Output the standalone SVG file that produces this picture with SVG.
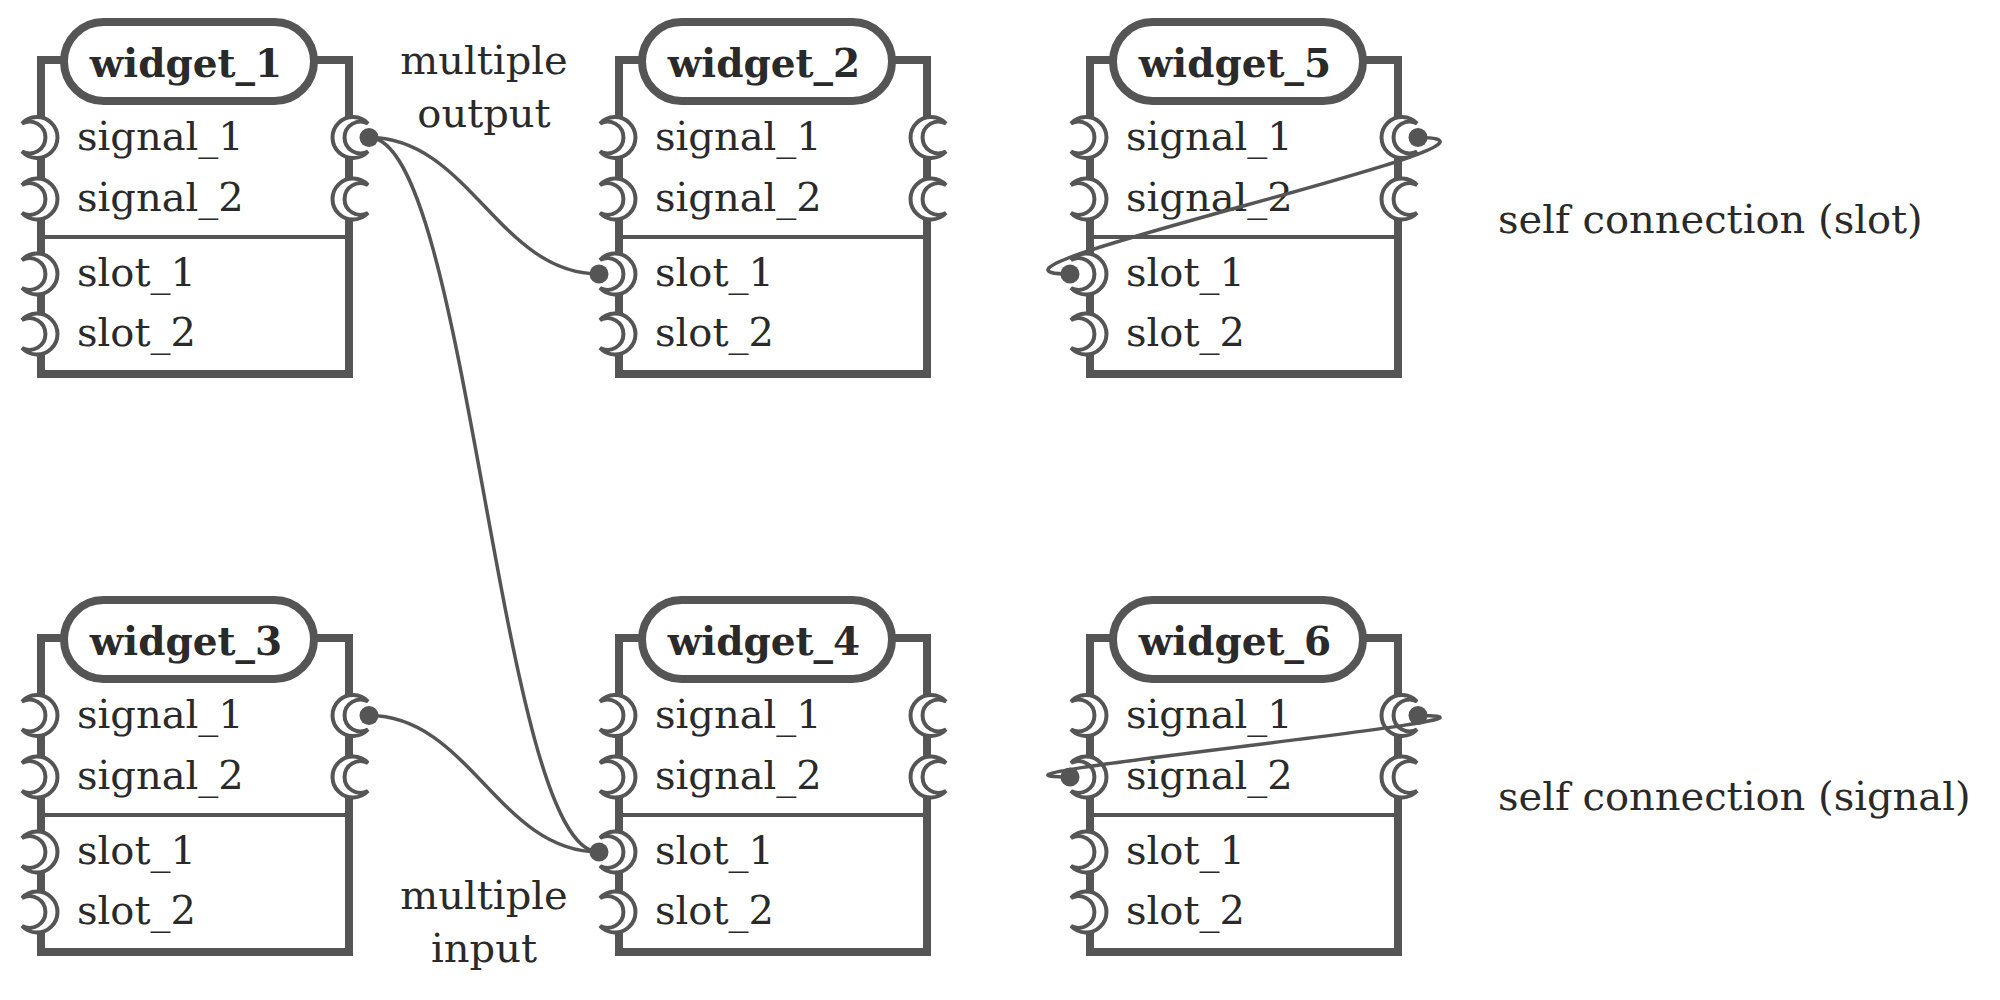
<svg xmlns="http://www.w3.org/2000/svg" xmlns:xlink="http://www.w3.org/1999/xlink" width="2000" height="1000" viewBox="0 0 2000 1000">
<style>
.box{fill:#fff;stroke:#555;stroke-width:8}
.div{stroke:#555;stroke-width:4}
.pill{fill:#fff;stroke:#555;stroke-width:8}
.title{font-family:"DejaVu Serif",serif;font-weight:bold;font-size:39px;fill:#2a2a2a;text-anchor:middle}
.lbl{font-family:"DejaVu Serif",serif;font-size:40px;fill:#2a2a2a}
.note{font-family:"DejaVu Serif",serif;font-size:40px;fill:#2a2a2a}
.mid{text-anchor:middle}
.wire{fill:none;stroke:#555;stroke-width:3.5}
.port{fill:#fff;stroke:#555;stroke-width:4}
</style>
<defs>
<g id="pL">
<circle cx="-4" cy="0" r="20.5" fill="#fff"/>
<path class="port" d="M-19,-14 A20.5,20.5 0 1 1 -19,14 A15.9,15.9 0 1 0 -19,-14 Z"/>
</g>
<g id="pR">
<circle cx="4" cy="0" r="20.5" fill="#fff"/>
<path class="port" d="M19,-14 A20.5,20.5 0 1 0 19,14 A15.9,15.9 0 1 1 19,-14 Z"/>
</g>
<g id="dot">
<circle r="12.5" fill="#fff"/>
<circle r="9.5" fill="#555"/>
</g>
</defs>

<g id="widget_1" transform="translate(41,60)">
<rect class="box" x="0" y="0" width="308" height="314"/>
<line class="div" x1="0" y1="177" x2="308" y2="177"/>
<rect class="pill" x="23" y="-38" width="250" height="79" rx="39.5"/>
<text class="title" x="145" y="17">widget_1</text>
<use xlink:href="#pL" x="0" y="77.5"/><use xlink:href="#pL" x="0" y="139"/><use xlink:href="#pL" x="0" y="214"/><use xlink:href="#pL" x="0" y="274"/>
<use xlink:href="#pR" x="308" y="77.5"/><use xlink:href="#pR" x="308" y="139"/>
<text class="lbl" x="36" y="89.5">signal_1</text><text class="lbl" x="36" y="151">signal_2</text><text class="lbl" x="36" y="226">slot_1</text><text class="lbl" x="36" y="286">slot_2</text>
</g>

<g id="widget_2" transform="translate(619,60)">
<rect class="box" x="0" y="0" width="308" height="314"/>
<line class="div" x1="0" y1="177" x2="308" y2="177"/>
<rect class="pill" x="23" y="-38" width="250" height="79" rx="39.5"/>
<text class="title" x="145" y="17">widget_2</text>
<use xlink:href="#pL" x="0" y="77.5"/><use xlink:href="#pL" x="0" y="139"/><use xlink:href="#pL" x="0" y="214"/><use xlink:href="#pL" x="0" y="274"/>
<use xlink:href="#pR" x="308" y="77.5"/><use xlink:href="#pR" x="308" y="139"/>
<text class="lbl" x="36" y="89.5">signal_1</text><text class="lbl" x="36" y="151">signal_2</text><text class="lbl" x="36" y="226">slot_1</text><text class="lbl" x="36" y="286">slot_2</text>
</g>

<g id="widget_5" transform="translate(1090,60)">
<rect class="box" x="0" y="0" width="308" height="314"/>
<line class="div" x1="0" y1="177" x2="308" y2="177"/>
<rect class="pill" x="23" y="-38" width="250" height="79" rx="39.5"/>
<text class="title" x="145" y="17">widget_5</text>
<use xlink:href="#pL" x="0" y="77.5"/><use xlink:href="#pL" x="0" y="139"/><use xlink:href="#pL" x="0" y="214"/><use xlink:href="#pL" x="0" y="274"/>
<use xlink:href="#pR" x="308" y="77.5"/><use xlink:href="#pR" x="308" y="139"/>
<text class="lbl" x="36" y="89.5">signal_1</text><text class="lbl" x="36" y="151">signal_2</text><text class="lbl" x="36" y="226">slot_1</text><text class="lbl" x="36" y="286">slot_2</text>
</g>

<g id="widget_3" transform="translate(41,638)">
<rect class="box" x="0" y="0" width="308" height="314"/>
<line class="div" x1="0" y1="177" x2="308" y2="177"/>
<rect class="pill" x="23" y="-38" width="250" height="79" rx="39.5"/>
<text class="title" x="145" y="17">widget_3</text>
<use xlink:href="#pL" x="0" y="77.5"/><use xlink:href="#pL" x="0" y="139"/><use xlink:href="#pL" x="0" y="214"/><use xlink:href="#pL" x="0" y="274"/>
<use xlink:href="#pR" x="308" y="77.5"/><use xlink:href="#pR" x="308" y="139"/>
<text class="lbl" x="36" y="89.5">signal_1</text><text class="lbl" x="36" y="151">signal_2</text><text class="lbl" x="36" y="226">slot_1</text><text class="lbl" x="36" y="286">slot_2</text>
</g>

<g id="widget_4" transform="translate(619,638)">
<rect class="box" x="0" y="0" width="308" height="314"/>
<line class="div" x1="0" y1="177" x2="308" y2="177"/>
<rect class="pill" x="23" y="-38" width="250" height="79" rx="39.5"/>
<text class="title" x="145" y="17">widget_4</text>
<use xlink:href="#pL" x="0" y="77.5"/><use xlink:href="#pL" x="0" y="139"/><use xlink:href="#pL" x="0" y="214"/><use xlink:href="#pL" x="0" y="274"/>
<use xlink:href="#pR" x="308" y="77.5"/><use xlink:href="#pR" x="308" y="139"/>
<text class="lbl" x="36" y="89.5">signal_1</text><text class="lbl" x="36" y="151">signal_2</text><text class="lbl" x="36" y="226">slot_1</text><text class="lbl" x="36" y="286">slot_2</text>
</g>

<g id="widget_6" transform="translate(1090,638)">
<rect class="box" x="0" y="0" width="308" height="314"/>
<line class="div" x1="0" y1="177" x2="308" y2="177"/>
<rect class="pill" x="23" y="-38" width="250" height="79" rx="39.5"/>
<text class="title" x="145" y="17">widget_6</text>
<use xlink:href="#pL" x="0" y="77.5"/><use xlink:href="#pL" x="0" y="139"/><use xlink:href="#pL" x="0" y="214"/><use xlink:href="#pL" x="0" y="274"/>
<use xlink:href="#pR" x="308" y="77.5"/><use xlink:href="#pR" x="308" y="139"/>
<text class="lbl" x="36" y="89.5">signal_1</text><text class="lbl" x="36" y="151">signal_2</text><text class="lbl" x="36" y="226">slot_1</text><text class="lbl" x="36" y="286">slot_2</text>
</g>

<g id="connectors">
<use xlink:href="#dot" x="369" y="137.5"/>
<use xlink:href="#dot" x="599" y="274"/>
<use xlink:href="#dot" x="599" y="852"/>
<use xlink:href="#dot" x="369" y="715.5"/>
<use xlink:href="#dot" x="1418" y="137.5"/>
<use xlink:href="#dot" x="1070" y="274"/>
<use xlink:href="#dot" x="1418" y="715.5"/>
<use xlink:href="#dot" x="1070" y="777"/>
<path class="wire" d="M369,137.5 C469,137.5 499,274 599,274"/>
<path class="wire" d="M369,137.5 C469,137.5 499,852 599,852"/>
<path class="wire" d="M369,715.5 C469,715.5 499,852 599,852"/>
<path class="wire" d="M1418,137.5 C1565,137.5 923,274 1070,274"/>
<path class="wire" d="M1418,715.5 C1565,715.5 923,777 1070,777"/>
</g>

<g id="labels">
<text class="note mid" x="484" y="74">multiple</text>
<text class="note mid" x="484" y="127">output</text>
<text class="note mid" x="484" y="909">multiple</text>
<text class="note mid" x="484" y="962">input</text>
<text class="note" x="1498" y="233">self connection (slot)</text>
<text class="note" x="1498" y="810">self connection (signal)</text>
</g>
</svg>
